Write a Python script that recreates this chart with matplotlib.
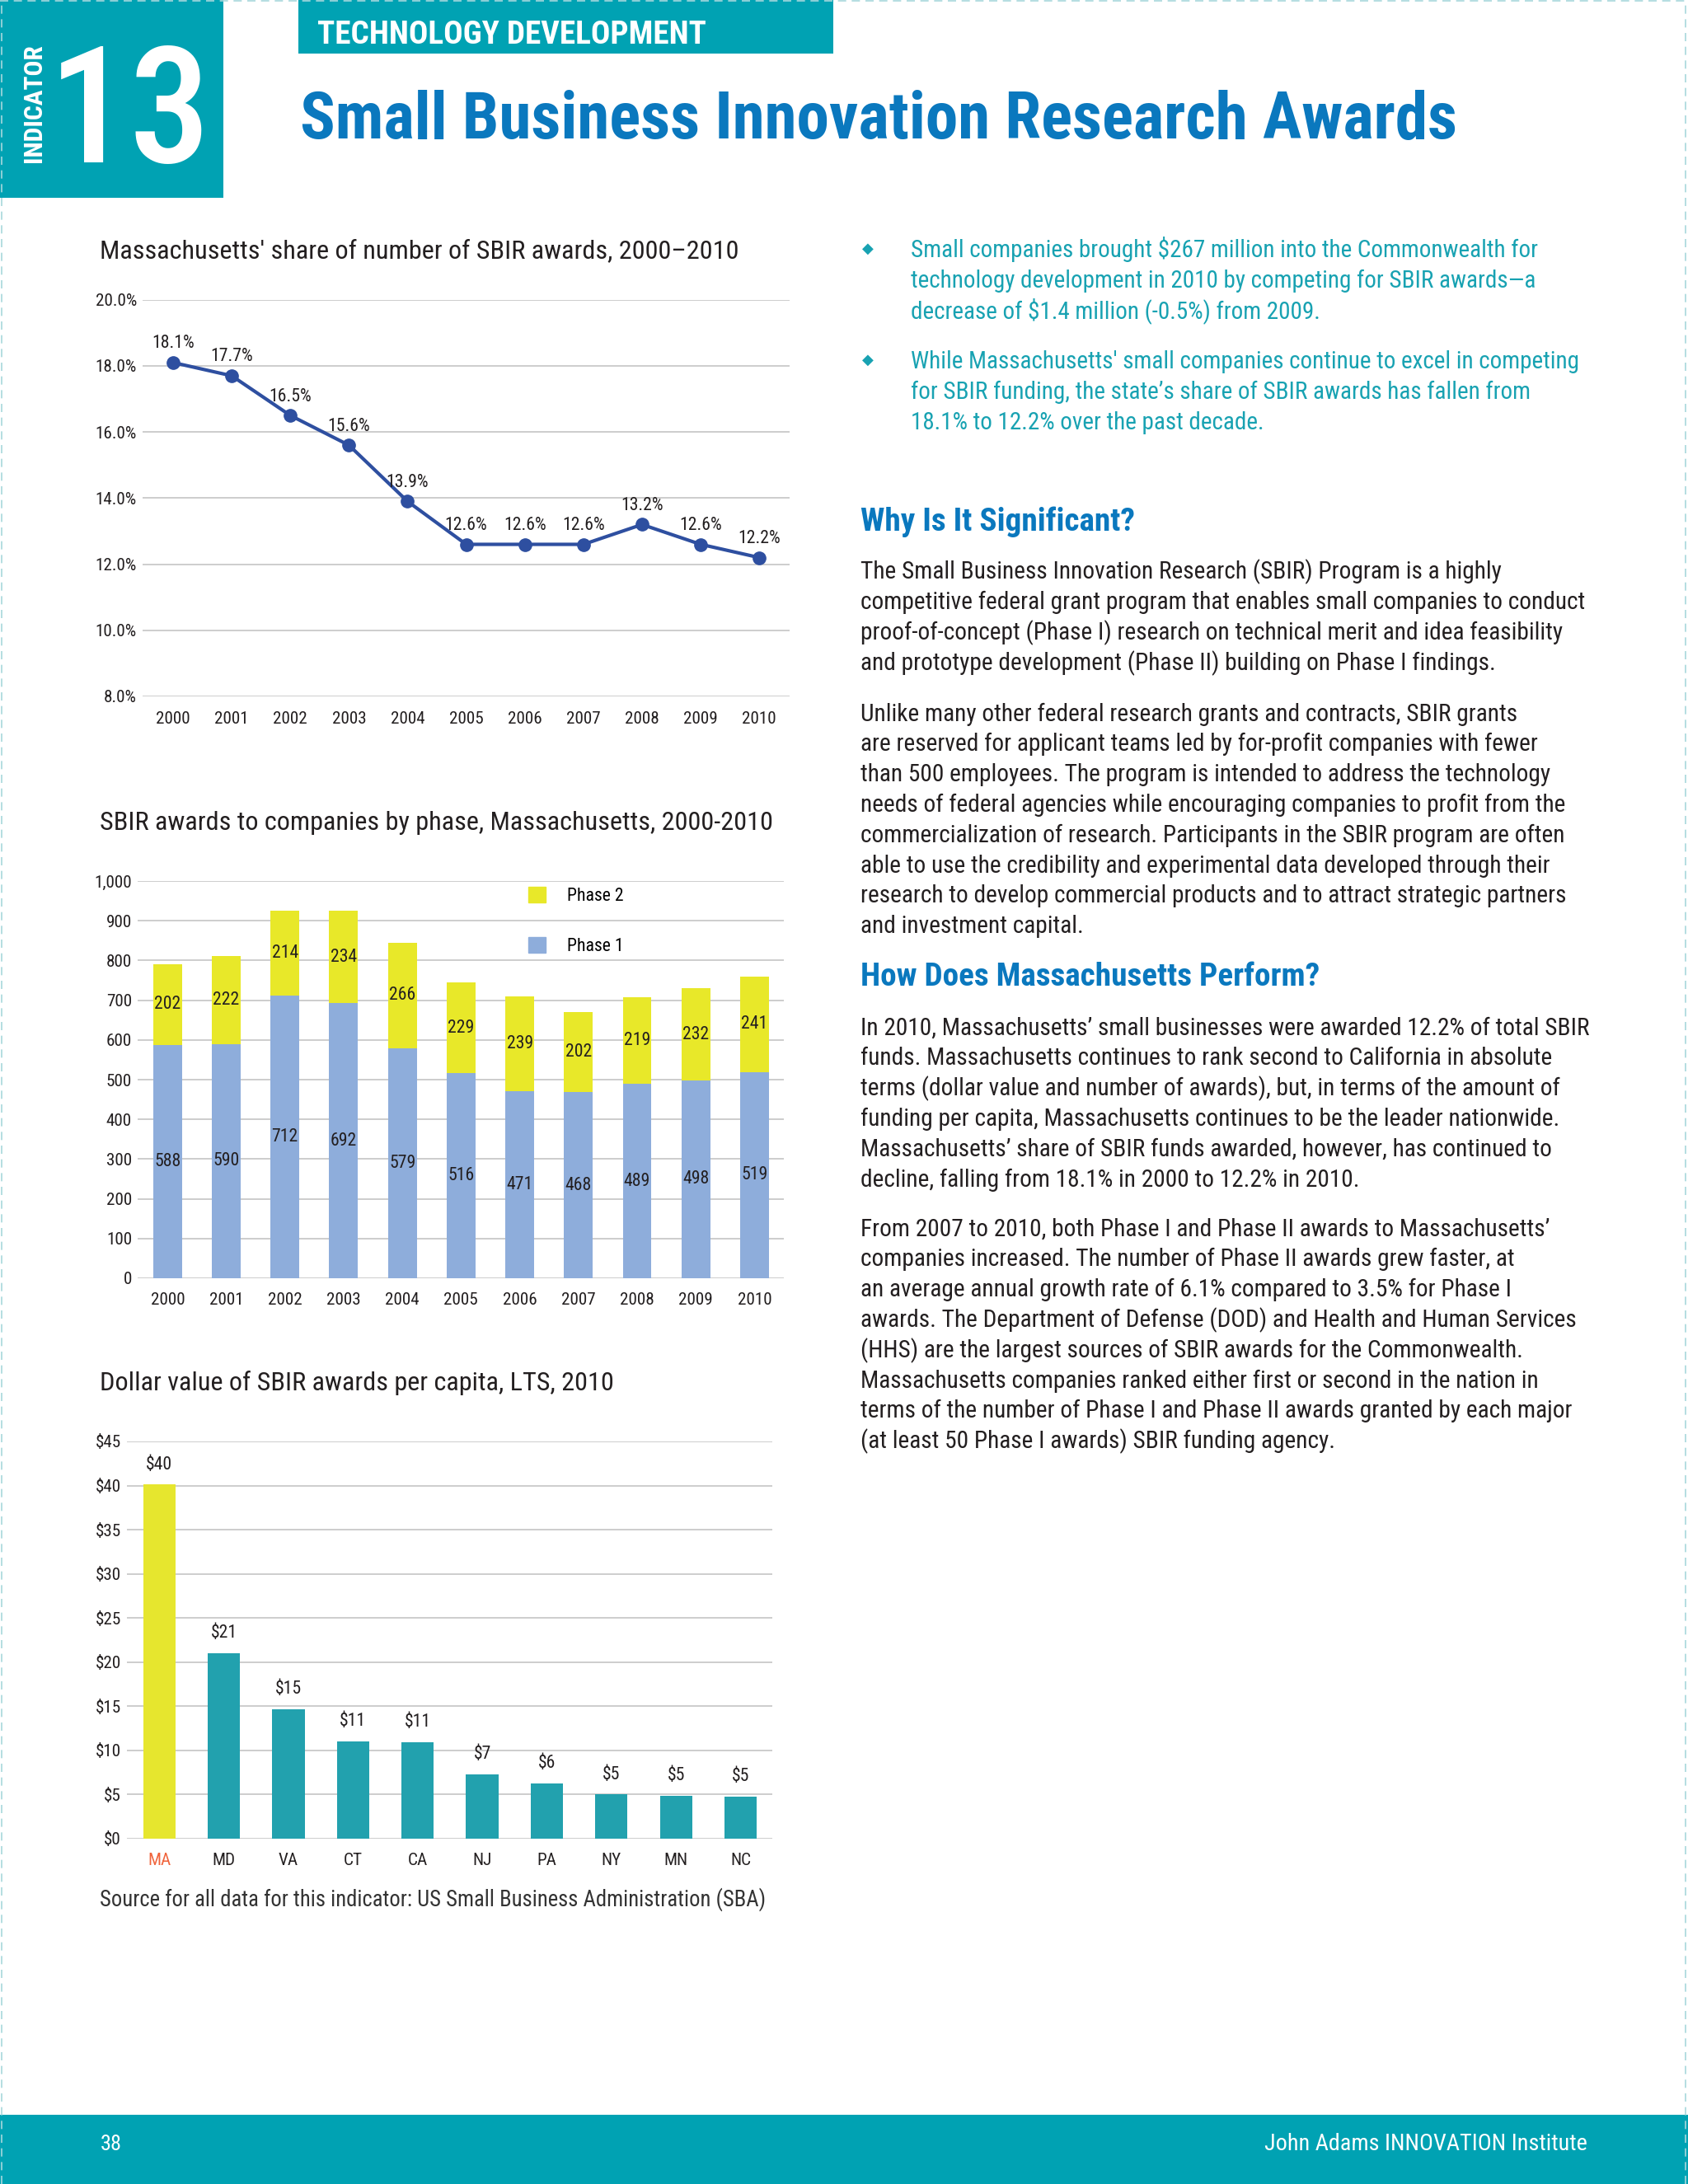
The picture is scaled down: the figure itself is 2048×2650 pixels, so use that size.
import matplotlib

matplotlib.use("Agg")
import matplotlib.pyplot as plt
from matplotlib import font_manager
from matplotlib.font_manager import FontProperties
from matplotlib.lines import Line2D
from matplotlib.patches import Patch, Rectangle
from matplotlib.ticker import FuncFormatter

W, H, DPI = 2048, 2650, 100

# ---- data -------------------------------------------------------------
YEARS = [str(y) for y in range(2000, 2011)]
SHARE = [18.1, 17.7, 16.5, 15.6, 13.9, 12.6, 12.6, 12.6, 13.2, 12.6, 12.2]
PHASE1 = [588, 590, 712, 692, 579, 516, 471, 468, 489, 498, 519]
PHASE2 = [202, 222, 214, 234, 266, 229, 239, 202, 219, 232, 241]
STATES = ["MA", "MD", "VA", "CT", "CA", "NJ", "PA", "NY", "MN", "NC"]
PER_CAPITA = [40.1, 21.0, 14.7, 11.0, 10.95, 7.3, 6.3, 5.0, 4.9, 4.8]

BULLETS = [
    ["Small companies brought $267 million into the Commonwealth for",
     "technology development in 2010 by competing for SBIR awards\u2014a",
     "decrease of $1.4 million (-0.5%) from 2009."],
    ["While Massachusetts' small companies continue to excel in competing",
     "for SBIR funding, the state\u2019s share of SBIR awards has fallen from",
     "18.1% to 12.2% over the past decade."],
]
PARA1 = [
    "The Small Business Innovation Research (SBIR) Program is a highly",
    "competitive federal grant program that enables small companies to conduct",
    "proof-of-concept (Phase I) research on technical merit and idea feasibility",
    "and prototype development (Phase II) building on Phase I findings.",
]
PARA2 = [
    "Unlike many other federal research grants and contracts, SBIR grants",
    "are reserved for applicant teams led by for-profit companies with fewer",
    "than 500 employees. The program is intended to address the technology",
    "needs of federal agencies while encouraging companies to profit from the",
    "commercialization of research. Participants in the SBIR program are often",
    "able to use the credibility and experimental data developed through their",
    "research to develop commercial products and to attract strategic partners",
    "and investment capital.",
]
PARA3 = [
    "In 2010, Massachusetts\u2019 small businesses were awarded 12.2% of total SBIR",
    "funds. Massachusetts continues to rank second to California in absolute",
    "terms (dollar value and number of awards), but, in terms of the amount of",
    "funding per capita, Massachusetts continues to be the leader nationwide.",
    "Massachusetts\u2019 share of SBIR funds awarded, however, has continued to",
    "decline, falling from 18.1% in 2000 to 12.2% in 2010.",
]
PARA4 = [
    "From 2007 to 2010, both Phase I and Phase II awards to Massachusetts\u2019",
    "companies increased. The number of Phase II awards grew faster, at",
    "an average annual growth rate of 6.1% compared to 3.5% for Phase I",
    "awards. The Department of Defense (DOD) and Health and Human Services",
    "(HHS) are the largest sources of SBIR awards for the Commonwealth.",
    "Massachusetts companies ranked either first or second in the nation in",
    "terms of the number of Phase I and Phase II awards granted by each major",
    "(at least 50 Phase I awards) SBIR funding agency.",
]
SOURCE = "Source for all data for this indicator: US Small Business Administration (SBA)"

# ---- colours ----------------------------------------------------------
TEAL = "#00A2B3"
BLUE = "#0A78BE"
BULLET_TEAL = "#18A2B2"
INK = "#231F20"
GRID = "#C9C9C9"
LINE_BLUE = "#2E4FA0"
P1_BLUE = "#8EADDB"
P2_YELLOW = "#E8E829"
MA_YELLOW = "#E6E62E"
BAR_TEAL = "#22A1AE"
MA_RED = "#F0643C"

names = {f.name for f in font_manager.fontManager.ttflist}
FONT = next((n for n in ["Roboto Condensed", "Liberation Sans Narrow",
                         "Open Sans Condensed", "Liberation Sans"] if n in names),
            "DejaVu Sans")
plt.rcParams["font.family"] = [FONT, "DejaVu Sans"]

fig = plt.figure(figsize=(W / DPI, H / DPI), dpi=DPI)
fig.patch.set_facecolor("white")
renderer = fig.canvas.get_renderer()


def esc(s):
    return s.replace("$", r"\$")


def fx(x):
    return x / W


def fy(y):
    return 1 - y / H


def fit(s, target_px, weight="normal"):
    prop = FontProperties(family=[FONT, "DejaVu Sans"], size=20, weight=weight)
    w, _, _ = renderer.get_text_width_height_descent(esc(s), prop, ismath=False)
    return 20 * target_px / w


def ptext(x, y, s, size, color=INK, weight="normal", ha="left", va="baseline", **kw):
    return fig.text(fx(x), fy(y), esc(s), fontsize=size, color=color,
                    fontweight=weight, ha=ha, va=va, **kw)


def prect(x0, y0, x1, y1, color):
    fig.add_artist(Rectangle((fx(x0), fy(y1)), (x1 - x0) / W, (y1 - y0) / H,
                             transform=fig.transFigure, color=color, lw=0))


def add_axes(left, top, right, bottom):
    return fig.add_axes([fx(left), fy(bottom), (right - left) / W, (bottom - top) / H])


def px(pt):
    return pt * DPI / 72


# ---- page furniture ---------------------------------------------------
prect(0, 0, 271, 240, TEAL)
prect(362, 0, 1011, 65, TEAL)
prect(0, 2566, W, H, TEAL)
for xs, ys in [((0, 1), (0.9995, 0.9995)), ((0.0008, 0.0008), (0, 1)),
               ((0.9985, 0.9985), (0, 1))]:
    fig.add_artist(Line2D(xs, ys, transform=fig.transFigure, color="#A8D8DC",
                          lw=1.2, ls=(0, (6, 4))))

s_ind = fit("INDICATOR", 144, "bold")
fig.text(fx(41), fy(125), "INDICATOR", rotation=90, ha="center", va="center",
         fontsize=s_ind, color="white", fontweight="bold")
ptext(158, 197, "13", 142, color="white", ha="center", weight="medium")
ptext(385, 53, "TECHNOLOGY DEVELOPMENT", fit("TECHNOLOGY DEVELOPMENT", 472, "bold"),
      color="white", weight="bold")
title = "Small Business Innovation Research Awards"
ptext(364, 168, title, fit(title, 1403, "bold"), color=BLUE, weight="bold")

ptext(122, 2600 + 9, "38", 19, color="white")
ptext(1926, 2600 + 9, "John Adams INNOVATION Institute",
      fit("John Adams INNOVATION Institute", 392), color="white", ha="right")

# ---- right column text ------------------------------------------------
LS = 36.8
s_body = fit(PARA1[1], 877)
s_bul = fit(BULLETS[1][0], 811)
s_head = fit("Why Is It Significant?", 332, "bold")


def block(lines, y0, size, color=INK, x=1044):
    for i, line in enumerate(lines):
        ptext(x, y0 + i * LS + 0.36 * px(size), line, size, color=color)


for lines, y0 in zip(BULLETS, [302, 436.7]):
    fig.text(fx(1053), fy(y0), "\u25C6", family="DejaVu Sans", fontsize=13,
             color=BULLET_TEAL, ha="center", va="center")
    block(lines, y0, s_bul, color=BULLET_TEAL, x=1105)

ptext(1044, 630 + 0.36 * px(s_head), "Why Is It Significant?", s_head,
      color=BLUE, weight="bold")
block(PARA1, 692, s_body)
block(PARA2, 864, s_body)
ptext(1044, 1181.6 + 0.36 * px(s_head), "How Does Massachusetts Perform?", s_head,
      color=BLUE, weight="bold")
block(PARA3, 1245, s_body)
block(PARA4, 1489, s_body)

# ---- chart titles -----------------------------------------------------
s_ct = fit("SBIR awards to companies by phase, Massachusetts, 2000-2010", 816)
for y, t in [(301.6, "Massachusetts' share of number of SBIR awards, 2000\u20132010"),
             (995, "SBIR awards to companies by phase, Massachusetts, 2000-2010"),
             (1675, "Dollar value of SBIR awards per capita, LTS, 2010")]:
    ptext(121, y + 0.36 * px(s_ct), t, s_ct)
s_src = fit(SOURCE, 808)
ptext(121, 2303 + 0.36 * px(s_src), SOURCE, s_src, color="#333333")

s_tick = s_body * 0.72
s_lab = s_body * 0.74


def style(ax):
    for sp in ax.spines.values():
        sp.set_visible(False)
    ax.grid(axis="y", color=GRID, lw=1.3)
    ax.set_axisbelow(True)
    ax.tick_params(length=0, labelsize=s_tick, colors=INK)


# ---- chart 1: line ----------------------------------------------------
ax1 = add_axes(173, 363.7, 957.5, 845)
x = list(range(len(YEARS)))
ax1.plot(x, SHARE, "-o", color=LINE_BLUE, lw=3, ms=11)
for xi, v in zip(x, SHARE):
    ax1.annotate(f"{v:.1f}%", (xi, v), xytext=(0, 9), textcoords="offset points",
                 ha="center", va="bottom", fontsize=s_lab, color=INK)
ax1.set_xlim(-0.52, 10.51)
ax1.set_ylim(8, 20)
ax1.set_yticks(range(8, 21, 2))
ax1.yaxis.set_major_formatter(FuncFormatter(lambda v, p: f"{v:.1f}%"))
ax1.set_xticks(x, YEARS)
style(ax1)
ax1.tick_params(axis="x", pad=13)
ax1.tick_params(axis="y", pad=5)

# ---- chart 2: stacked bars --------------------------------------------
ax2 = add_axes(167, 1069, 951, 1551)
b1 = ax2.bar(x, PHASE1, width=0.49, color=P1_BLUE, label="Phase 1")
b2 = ax2.bar(x, PHASE2, width=0.49, bottom=PHASE1, color=P2_YELLOW, label="Phase 2")
ax2.bar_label(b1, label_type="center", fontsize=s_lab, color=INK)
ax2.bar_label(b2, label_type="center", fontsize=s_lab, color=INK)
ax2.set_xlim(-0.51, 10.5)
ax2.set_ylim(0, 1000)
ax2.set_yticks(range(0, 1001, 100))
ax2.yaxis.set_major_formatter(FuncFormatter(lambda v, p: f"{v:,.0f}"))
ax2.set_xticks(x, YEARS)
style(ax2)
ax2.tick_params(axis="x", pad=12)
ax2.tick_params(axis="y", pad=5)
ax2.legend(handles=[Patch(color=P2_YELLOW, label="Phase 2"),
                    Patch(color=P1_BLUE, label="Phase 1")],
           loc="upper left", bbox_to_anchor=(0.605, 0.985), frameon=False,
           fontsize=s_lab, handlelength=0.95, handleheight=0.95,
           handletextpad=1.2, labelspacing=1.8, borderpad=0, borderaxespad=0)

# ---- chart 3: per capita ----------------------------------------------
ax3 = add_axes(154, 1749, 937, 2231)
xs = list(range(len(STATES)))
colors = [MA_YELLOW] + [BAR_TEAL] * (len(STATES) - 1)
b3 = ax3.bar(xs, PER_CAPITA, width=0.5, color=colors)
ax3.bar_label(b3, labels=[esc(f"${v:.0f}") for v in PER_CAPITA], padding=10,
              fontsize=s_lab, color=INK)
ax3.set_xlim(-0.5, 9.49)
ax3.set_ylim(0, 45)
ax3.set_yticks(range(0, 46, 5))
ax3.yaxis.set_major_formatter(FuncFormatter(lambda v, p: esc(f"${v:.0f}")))
ax3.set_xticks(xs, STATES)
style(ax3)
ax3.tick_params(axis="x", pad=12)
ax3.tick_params(axis="y", pad=5)
ax3.get_xticklabels()[0].set_color(MA_RED)

fig.savefig("out.png", dpi=DPI, facecolor="white")
